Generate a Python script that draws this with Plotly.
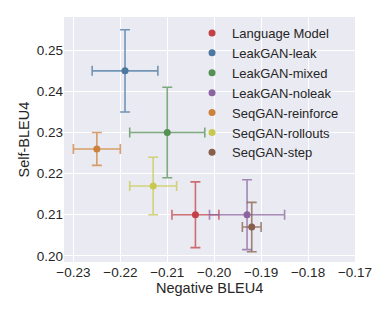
import plotly.graph_objects as go

names = ["Language Model", "LeakGAN-leak", "LeakGAN-mixed", "LeakGAN-noleak",
         "SeqGAN-reinforce", "SeqGAN-rollouts", "SeqGAN-step"]
neg_bleu = [-0.204, -0.219, -0.210, -0.193, -0.225, -0.213, -0.192]
neg_bleu_err = [0.005, 0.007, 0.008, 0.008, 0.005, 0.005, 0.002]
self_bleu = [0.210, 0.245, 0.230, 0.210, 0.226, 0.217, 0.207]
self_bleu_err = [0.008, 0.010, 0.011, 0.0085, 0.004, 0.007, 0.006]
colors = ["#c34146", "#4b78a0", "#559155", "#8c64a0", "#cd823c", "#c8c850", "#875f4b"]
x_ticks = [-0.23, -0.22, -0.21, -0.20, -0.19, -0.18, -0.17]
y_ticks = [0.20, 0.21, 0.22, 0.23, 0.24, 0.25]

def rgba(h, a):
    h = h.lstrip("#")
    r, g, b = int(h[0:2], 16), int(h[2:4], 16), int(h[4:6], 16)
    return f"rgba({r},{g},{b},{a})"

fig = go.Figure()
for n, x, xe, y, ye, c in zip(names, neg_bleu, neg_bleu_err, self_bleu, self_bleu_err, colors):
    fig.add_trace(go.Scatter(
        x=[x], y=[y], name=n, mode="markers",
        marker=dict(size=7, color=c),
        error_x=dict(type="data", array=[xe], color=rgba(c, 0.75), thickness=1.6, width=5),
        error_y=dict(type="data", array=[ye], color=rgba(c, 0.75), thickness=1.6, width=5),
    ))

# page body has an 8px margin: figure sits at (8, 8)
fig.update_layout(
    template="none",
    width=382, height=304,
    margin=dict(l=56, r=35, t=9, b=50),
    paper_bgcolor="white", plot_bgcolor="#EAEAF2",
    font=dict(family="Liberation Sans, Arial, sans-serif", size=14, color="#262626"),
    showlegend=True,
    legend=dict(x=0.44, y=0.996, xanchor="left", yanchor="top",
                bgcolor="rgba(0,0,0,0)", font=dict(size=13), tracegroupgap=0,
                itemwidth=30),
    xaxis=dict(range=[-0.232, -0.17], tickvals=x_ticks,
               tickformat=".2f", gridcolor="white", gridwidth=1, zeroline=False,
               showline=False, ticks="", ticklen=0, automargin=False,
               tickfont=dict(size=13.5)),
    yaxis=dict(range=[0.1985, 0.2581], tickvals=y_ticks,
               tickformat=".2f", gridcolor="white", gridwidth=1, zeroline=False,
               showline=False, ticks="", ticklen=0, automargin=False,
               tickfont=dict(size=13.5)),
    annotations=[
        dict(text="Negative BLEU4", xref="paper", yref="paper", x=0.5, y=0,
             xanchor="center", yanchor="middle", yshift=-26, showarrow=False,
             font=dict(size=14.5)),
        dict(text="Self-BLEU4", xref="paper", yref="paper", x=0, y=0.5,
             xanchor="center", yanchor="middle", xshift=-41, textangle=-90,
             showarrow=False, font=dict(size=14.5)),
    ],
)

fig.write_html("out.html")
